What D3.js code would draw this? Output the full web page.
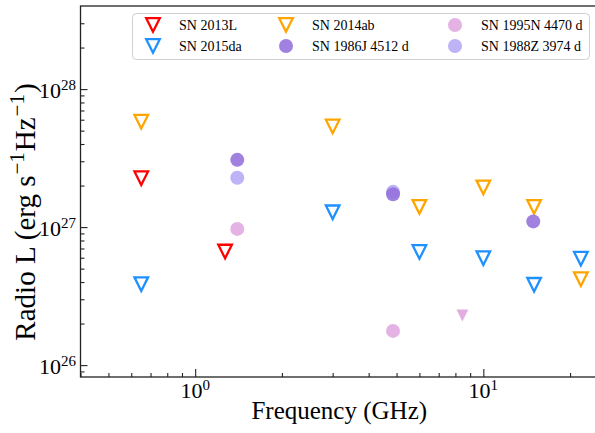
<!DOCTYPE html>
<html><head><meta charset="utf-8">
<script src="https://cdn.jsdelivr.net/npm/d3@7"></script>
<style>
body{margin:0;background:#fff}
text{font-family:"Liberation Serif","Times New Roman",serif;fill:#000}
</style>
</head><body><svg id="c" width="595" height="433"></svg>
<script>
// ---- data ----
const sn2013L_freq = [0.65, 1.27];
const sn2013L_lum  = [2.26e27, 6.65e26];
const sn2015da_freq = [0.65, 3.0, 6.0, 10.0, 15.0, 21.8];
const sn2015da_lum  = [3.86e26, 1.28e27, 6.6e26, 5.96e26, 3.82e26, 5.9e26];
const sn2014ab_freq = [0.65, 3.0, 6.0, 10.0, 15.0, 21.8];
const sn2014ab_lum  = [5.8e27, 5.36e27, 1.4e27, 1.94e27, 1.4e27, 4.2e26];
const sn1986J_freq = [1.4, 4.86, 14.9];
const sn1986J_lum  = [3.07e27, 1.73e27, 1.1e27];
const sn1995N_freq = [1.4, 4.86];
const sn1995N_lum  = [9.7e26, 1.77e26];
const sn1995N_lim_freq = [8.46];
const sn1995N_lim_lum  = [2.29e26];
const sn1988Z_freq = [1.4, 4.86];
const sn1988Z_lum  = [2.28e27, 1.8e27];

const xMajor = [1, 10];
const xMajorExp = ["0", "1"];
const yMajor = [1e26, 1e27, 1e28];
const yMajorExp = ["26", "27", "28"];
const legendLabels = ["SN 2013L", "SN 2015da", "SN 2014ab", "SN 1986J 4512 d", "SN 1995N 4470 d", "SN 1988Z 3974 d"];

// ---- layout ----
const svg = d3.select("#c");
const L = 80.5, R = 598, T = 6, B = 377;
const x = d3.scaleLog().domain([0.4, 25]).range([L, R]);
const y = d3.scaleLog().domain([8.2e25, 4.0e28]).range([B, T]);

function minors(lo, hi, decs) {
  const out = [];
  decs.forEach(d => { for (let m = 2; m <= 9; m++) { const v = m * d; if (v >= lo && v <= hi) out.push(v); } });
  return out;
}
const xMinor = minors(0.4, 25, [0.1, 1, 10]);
const yMinor = minors(8.2e25, 3.99e28, [1e25, 1e26, 1e27, 1e28]);

const axisColor = "#222";
const gx = svg.append("g").attr("transform", `translate(0,${B})`);
gx.call(d3.axisBottom(x).tickValues(xMinor).tickSize(-4).tickFormat(""));
gx.append("g").call(d3.axisBottom(x).tickValues(xMajor).tickSize(-8).tickFormat(""));
const gy = svg.append("g").attr("transform", `translate(${L},0)`);
gy.call(d3.axisLeft(y).tickValues(yMinor).tickSize(-4).tickFormat(""));
gy.append("g").call(d3.axisLeft(y).tickValues(yMajor).tickSize(-7).tickFormat(""));
svg.selectAll(".domain").remove();
svg.selectAll(".tick line").attr("stroke", axisColor).attr("stroke-width", 1.1);

svg.append("rect").attr("x", L).attr("y", T).attr("width", R - L).attr("height", B - T)
  .attr("fill", "none").attr("stroke", axisColor).attr("stroke-width", 1.3);

// tick labels
xMajor.forEach((v, i) => {
  const t = svg.append("text").attr("x", x(v)).attr("y", 398).attr("text-anchor", "middle").style("font-size", "22px");
  t.append("tspan").text("10");
  t.append("tspan").attr("dy", -8).style("font-size", "15px").text(xMajorExp[i]);
});
yMajor.forEach((v, i) => {
  const t = svg.append("text").attr("x", 76).attr("y", y(v) + 8.5).attr("text-anchor", "end").style("font-size", "22px");
  t.append("tspan").text("10");
  t.append("tspan").attr("dy", -8).style("font-size", "15px").text(yMajorExp[i]);
});

// axis labels
svg.append("text").attr("x", (L + R) / 2).attr("y", 419).attr("text-anchor", "middle")
  .style("font-size", "25px").text("Frequency (GHz)");
const yl = svg.append("text").attr("transform", `translate(35,212) rotate(-90)`)
  .attr("text-anchor", "middle").style("font-size", "29px");
yl.append("tspan").text("Radio L (erg s");
yl.append("tspan").attr("dy", -11).attr("dx", 1).style("font-size", "21px").text("\u22121");
yl.append("tspan").attr("dy", 11).attr("dx", 1).text("Hz");
yl.append("tspan").attr("dy", -11).attr("dx", 1).style("font-size", "21px").text("\u22121");
yl.append("tspan").attr("dy", 11).attr("dx", 1).text(")");

// markers
const tri = h => `M0,${h}L${-h},${-h}L${h},${-h}Z`;
function openTri(g, fx, fy, color) {
  g.selectAll(null).data(d3.zip(fx, fy)).join("path")
    .attr("transform", d => `translate(${x(d[0])},${y(d[1])})`)
    .attr("d", tri(6.8)).attr("fill", "none").attr("stroke", color)
    .attr("stroke-width", 2.3).attr("stroke-linejoin", "miter");
}
function dots(g, fx, fy, color, op) {
  g.selectAll(null).data(d3.zip(fx, fy)).join("circle")
    .attr("cx", d => x(d[0])).attr("cy", d => y(d[1])).attr("r", 7)
    .attr("fill", color).attr("fill-opacity", op);
}
const gm = svg.append("g");
openTri(gm, sn2013L_freq, sn2013L_lum, "#ff0000");
openTri(gm, sn2015da_freq, sn2015da_lum, "#1e90ff");
openTri(gm, sn2014ab_freq, sn2014ab_lum, "#ffa500");
dots(gm, sn1995N_freq, sn1995N_lum, "#dda0dd", 0.8);
gm.selectAll(null).data(d3.zip(sn1995N_lim_freq, sn1995N_lim_lum)).join("path")
  .attr("transform", d => `translate(${x(d[0])},${y(d[1])})`)
  .attr("d", tri(6)).attr("fill", "#dda0dd").attr("fill-opacity", 0.85);
dots(gm, sn1988Z_freq, sn1988Z_lum, "#7b68ee", 0.5);
dots(gm, sn1986J_freq, sn1986J_lum, "#9370db", 0.88);

// legend
const lg = svg.append("g");
lg.append("rect").attr("x", 132.5).attr("y", 13.5).attr("width", 457).attr("height", 46).attr("rx", 4)
  .attr("fill", "#fff").attr("fill-opacity", 0.8).attr("stroke", "#d0d0d0").attr("stroke-width", 1);
const legItems = [
  {t: "tri", c: "#ff0000"}, {t: "tri", c: "#1e90ff"}, {t: "tri", c: "#ffa500"},
  {t: "dot", c: "#9370db", o: 0.88}, {t: "dot", c: "#dda0dd", o: 0.8}, {t: "dot", c: "#7b68ee", o: 0.5}
];
const colMarkX = [153, 286, 455], colTextX = [179, 312, 481], rowY = [25, 46];
legItems.forEach((it, i) => {
  const col = Math.floor(i / 2), row = i % 2;
  const mx = colMarkX[col], my = rowY[row];
  if (it.t === "tri") {
    lg.append("path").attr("transform", `translate(${mx},${my})`).attr("d", tri(6.8))
      .attr("fill", "none").attr("stroke", it.c).attr("stroke-width", 2.3).attr("stroke-linejoin", "miter");
  } else {
    lg.append("circle").attr("cx", mx).attr("cy", my).attr("r", 7).attr("fill", it.c).attr("fill-opacity", it.o);
  }
  lg.append("text").attr("x", colTextX[col]).attr("y", my + 5).style("font-size", "14px").text(legendLabels[i]);
});
</script>
</body></html>
